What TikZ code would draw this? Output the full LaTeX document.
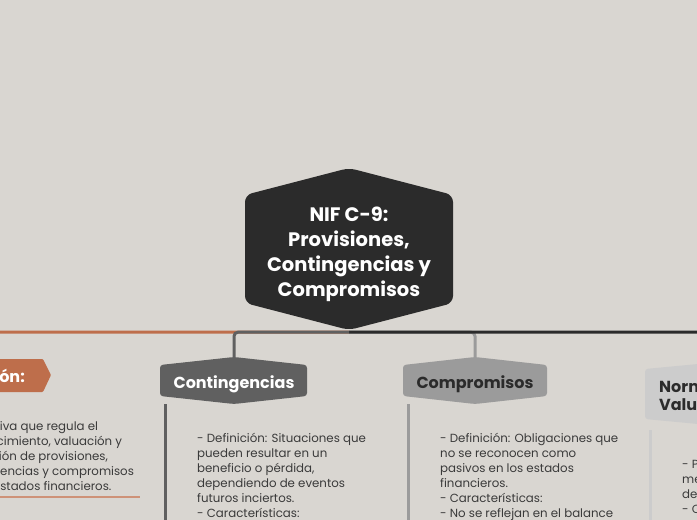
\documentclass[tikz,border=0pt]{standalone}
\usepackage{fontspec}
\setmainfont{Poppins}
\definecolor{paper}{RGB}{217,214,209}
\definecolor{hubc}{RGB}{43,43,43}
\definecolor{orangec}{RGB}{190,110,75}
\definecolor{contc}{RGB}{96,96,96}
\definecolor{compc}{RGB}{155,155,155}
\definecolor{normc}{RGB}{204,204,204}
\definecolor{ink}{RGB}{58,58,58}

\begin{document}
\begin{tikzpicture}[x=1pt,y=-1pt,
    hub/.style={text=white,font=\bfseries\fontsize{19.5}{25}\selectfont,align=center,
      minimum width=208pt,minimum height=156pt,inner sep=0pt},
    topic/.style={font=\bfseries\fontsize{16}{18}\selectfont,minimum width=147pt,
      minimum height=46pt,inner sep=0pt},
    body/.style={text=ink,font=\fontsize{11.8}{15}\selectfont,align=left,inner sep=0pt},
    branch/.style={line width=3pt,rounded corners=4pt,
      to path={-| (\tikztotarget)}}]
    \fill[paper] (0,0) rectangle (697,520);
    \useasboundingbox (0,0) rectangle (697,520);
    \clip (0,0) rectangle (697,520);

    \fill[hubc,rounded corners=7pt] (245,249) -- (245,195) -- (349,168) -- (453,195)
      -- (453,303) -- (349,330) -- (245,303) -- cycle;
    \fill[contc,rounded corners=3pt] (160,381) -- (160,365) -- (234,357) -- (307,365)
      -- (307,396) -- (234,404) -- (160,396) -- cycle;
    \fill[compc,rounded corners=3pt] (403,381) -- (403,365) -- (475,357) -- (547,365)
      -- (547,396) -- (475,404) -- (403,396) -- cycle;
    \fill[normc,rounded corners=3pt] (645,394) -- (645,369) -- (730,361) -- (815,369)
      -- (815,419) -- (730,427) -- (645,419) -- cycle;
    \fill[orangec,rounded corners=1pt] (-60,359) -- (43,359) -- (51,375) -- (43,392)
      -- (-60,392) -- cycle;

    \node[hub] (nif) at (349,254) {NIF C-9:\\Provisiones,\\Contingencias y\\Compromisos};
    \node[topic,text=white] (cont) at (234,384) {Contingencias};
    \node[topic,text=hubc] (comp) at (475,384) {Compromisos};
    \node[topic,text=white,anchor=east,minimum width=0pt] (def) at (25,376) {Definición:};
    \node[topic,text=hubc,align=left,anchor=west,minimum width=0pt,minimum height=0pt] (norm) at (659,396) {Normas de\\Valuación};

    \node[body,anchor=north west] (deftxt) at (-45,421) {Normativa que regula el\\reconocimiento, valuación y\\revelación de provisiones,\\contingencias y compromisos\\en los estados financieros.};
    \node[body,anchor=north west] (conttxt) at (197,433) {- Definición: Situaciones que\\pueden resultar en un\\beneficio o pérdida,\\dependiendo de eventos\\futuros inciertos.\\- Características:};
    \node[body,anchor=north west] (comptxt) at (440,433) {- Definición: Obligaciones que\\no se reconocen como\\pasivos en los estados\\financieros.\\- Características:\\- No se reflejan en el balance};
    \node[body,anchor=north west] (normtxt) at (682,459) {- Principios de\\medición y\\determinación.\\- Criterios:};

    \path
    (nif.south) edge [branch,orangec] (def.north)
    (nif.south) edge [branch,compc] (comp.north)
    (nif.south) edge [branch,hubc] (norm.north)
    (nif.south) edge [branch,contc] (cont.north)
    ;
    \draw[contc,line width=3pt] (165,404) -- (165,530);
    \draw[compc,line width=3pt] (408,404) -- (408,530);
    \draw[normc,line width=3pt] (650,430) -- (650,530);
    \draw[orangec!75,line width=1.2pt] (-60,497) -- (140,497);
  \end{tikzpicture}
\end{document}
